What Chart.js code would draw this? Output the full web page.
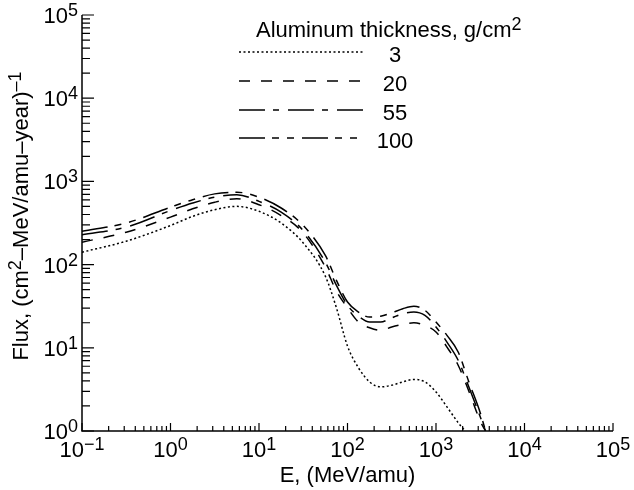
<!DOCTYPE html>
<html>
<head>
<meta charset="utf-8">
<script src="https://cdn.jsdelivr.net/npm/chart.js@4.4.1/dist/chart.umd.min.js"></script>
<style>
  body { margin: 0; background: #fff; }
  canvas { display: block; }
</style>
</head>
<body>
<canvas id="grafico" width="634" height="490"></canvas>
<script>
// energia (MeV/amu) y flujo para cada espesor de aluminio
const energy3 = [0.1, 0.316, 1, 1.78, 3.16, 5.62, 10, 17.8, 31.6, 56.2, 75, 100, 133, 178, 237, 316, 422, 562, 750, 1000, 1330, 1780, 2140];
const flux3 = [141, 191, 295, 380, 457, 501, 437, 316, 182, 72.4, 30.2, 10.5, 5.75, 3.89, 3.39, 3.55, 3.89, 4.17, 3.89, 2.95, 1.95, 1.26, 1.0];

const energyThick = [0.1, 0.316, 1, 1.78, 3.16, 5.62, 10, 17.8, 31.6, 56.2, 75, 100, 133, 178, 237, 316, 422, 562, 750, 1000, 1330, 1780, 2370, 3160, 3630];
const flux20 = [186, 245, 372, 468, 562, 617, 525, 389, 240, 93.3, 47.9, 30.2, 20.4, 17.4, 16.2, 17.8, 19.1, 20.0, 18.6, 15.5, 10.2, 6.17, 2.95, 1.32, 1.0];
const flux55 = [229, 282, 447, 550, 646, 692, 575, 427, 257, 107, 56.2, 32.4, 24.0, 20.4, 20.4, 22.9, 25.7, 26.9, 24.5, 17.8, 11.7, 7.08, 3.31, 1.48, 1.0];
const flux100 = [251, 316, 490, 603, 708, 741, 646, 479, 295, 129, 64.6, 35.5, 26.9, 23.4, 24.0, 26.3, 29.5, 31.6, 28.2, 20.4, 14.1, 8.91, 3.80, 1.66, 1.0];

const thicknessLabels = ['3', '20', '55', '100'];
const xExponents = [-1, 0, 1, 2, 3, 4, 5];
const yExponents = [0, 1, 2, 3, 4, 5];

const FONT = '"Liberation Sans", Arial, Helvetica, sans-serif';
const MAIN = 22;
const SUP = 18;

function puntos(xs, ys) {
  return xs.map((x, i) => ({ x: x, y: ys[i] }));
}

function expText(e) {
  return e < 0 ? '\u2212' + Math.abs(e) : String(e);
}

// dibuja texto con partes en superindice: [[texto, esSup], ...]
function medir(ctx, partes) {
  let w = 0;
  partes.forEach(p => {
    ctx.font = (p[1] ? SUP : MAIN) + 'px ' + FONT;
    w += ctx.measureText(p[0]).width;
  });
  return w;
}
function escribir(ctx, partes, x, y) {
  partes.forEach(p => {
    ctx.font = (p[1] ? SUP : MAIN) + 'px ' + FONT;
    ctx.fillText(p[0], x, p[1] ? y - 7 : y);
    x += ctx.measureText(p[0]).width;
  });
}

const ejes = {
  id: 'ejes',
  afterDraw(chart) {
    const ctx = chart.ctx;
    const xs = chart.scales.x;
    const ys = chart.scales.y;
    const a = chart.chartArea;
    ctx.save();
    ctx.strokeStyle = '#000';
    ctx.fillStyle = '#000';
    ctx.lineWidth = 1.5;
    ctx.setLineDash([]);

    // lineas de ejes
    ctx.beginPath();
    ctx.moveTo(a.left, a.top);
    ctx.lineTo(a.left, a.bottom);
    ctx.lineTo(a.right, a.bottom);
    ctx.stroke();

    // marcas eje x
    ctx.lineWidth = 1.2;
    ctx.beginPath();
    for (let d = -1; d <= 5; d++) {
      const px = xs.getPixelForValue(Math.pow(10, d));
      ctx.moveTo(px, a.bottom);
      ctx.lineTo(px, a.bottom - 8);
      if (d < 5) {
        for (let m = 2; m <= 9; m++) {
          const q = xs.getPixelForValue(m * Math.pow(10, d));
          ctx.moveTo(q, a.bottom);
          ctx.lineTo(q, a.bottom - 5);
        }
      }
    }
    // marcas eje y
    for (let d = 0; d <= 5; d++) {
      const py = ys.getPixelForValue(Math.pow(10, d));
      ctx.moveTo(a.left, py);
      ctx.lineTo(a.left + 12, py);
      if (d < 5) {
        for (let m = 2; m <= 9; m++) {
          const q = ys.getPixelForValue(m * Math.pow(10, d));
          ctx.moveTo(a.left, q);
          ctx.lineTo(a.left + 8, q);
        }
      }
    }
    ctx.stroke();

    // etiquetas
    ctx.textBaseline = 'alphabetic';
    ctx.textAlign = 'left';
    xExponents.forEach(e => {
      const partes = [['10', false], [expText(e), true]];
      const w = medir(ctx, partes);
      const px = xs.getPixelForValue(Math.pow(10, e));
      escribir(ctx, partes, px - w / 2, 457);
    });
    yExponents.forEach(e => {
      const partes = [['10', false], [expText(e), true]];
      const w = medir(ctx, partes);
      const py = ys.getPixelForValue(Math.pow(10, e));
      escribir(ctx, partes, 78 - w, py + 8);
    });

    // titulo eje x
    const tx = [['E, (MeV/amu)', false]];
    escribir(ctx, tx, (a.left + a.right) / 2 - medir(ctx, tx) / 2, 482);

    // titulo eje y
    const ty = [['Flux, (cm', false], ['2', true], ['\u2013MeV/amu\u2013year)', false], ['\u20131', true]];
    ctx.save();
    ctx.translate(28, 216);
    ctx.rotate(-Math.PI / 2);
    escribir(ctx, ty, -medir(ctx, ty) / 2, 0);
    ctx.restore();

    // leyenda
    escribir(ctx, [['Aluminum thickness, g/cm', false], ['2', true]], 256, 37);
    const filas = [52, 81, 110, 138];
    chart.data.datasets.forEach((ds, i) => {
      ctx.lineWidth = ds.borderWidth;
      ctx.setLineDash(ds.borderDash);
      ctx.beginPath();
      ctx.moveTo(239, filas[i]);
      ctx.lineTo(364, filas[i]);
      ctx.stroke();
      ctx.setLineDash([]);
      ctx.font = MAIN + 'px ' + FONT;
      ctx.textAlign = 'center';
      ctx.fillText(ds.label, 395, filas[i] + 10);
      ctx.textAlign = 'left';
    });
    ctx.restore();
  }
};

function serie(label, xs, ys, dash) {
  return {
    label: label,
    data: puntos(xs, ys),
    borderColor: '#000',
    borderWidth: 1.5,
    borderDash: dash,
    pointRadius: 0,
    fill: false,
    cubicInterpolationMode: 'monotone'
  };
}

new Chart(document.getElementById('grafico'), {
  type: 'line',
  data: {
    datasets: [
      serie(thicknessLabels[0], energy3, flux3, [2, 2.5]),
      serie(thicknessLabels[1], energyThick, flux20, [11, 11]),
      serie(thicknessLabels[2], energyThick, flux55, [26, 8, 6, 9]),
      serie(thicknessLabels[3], energyThick, flux100, [26, 7, 7, 8, 7, 8])
    ]
  },
  options: {
    responsive: false,
    animation: false,
    layout: { padding: { left: 82, right: 21, top: 15, bottom: 59 } },
    plugins: {
      legend: { display: false },
      tooltip: { enabled: false }
    },
    scales: {
      x: { type: 'logarithmic', min: 0.1, max: 100000, display: false },
      y: { type: 'logarithmic', min: 1, max: 100000, display: false }
    }
  },
  plugins: [ejes]
});
</script>
</body>
</html>
